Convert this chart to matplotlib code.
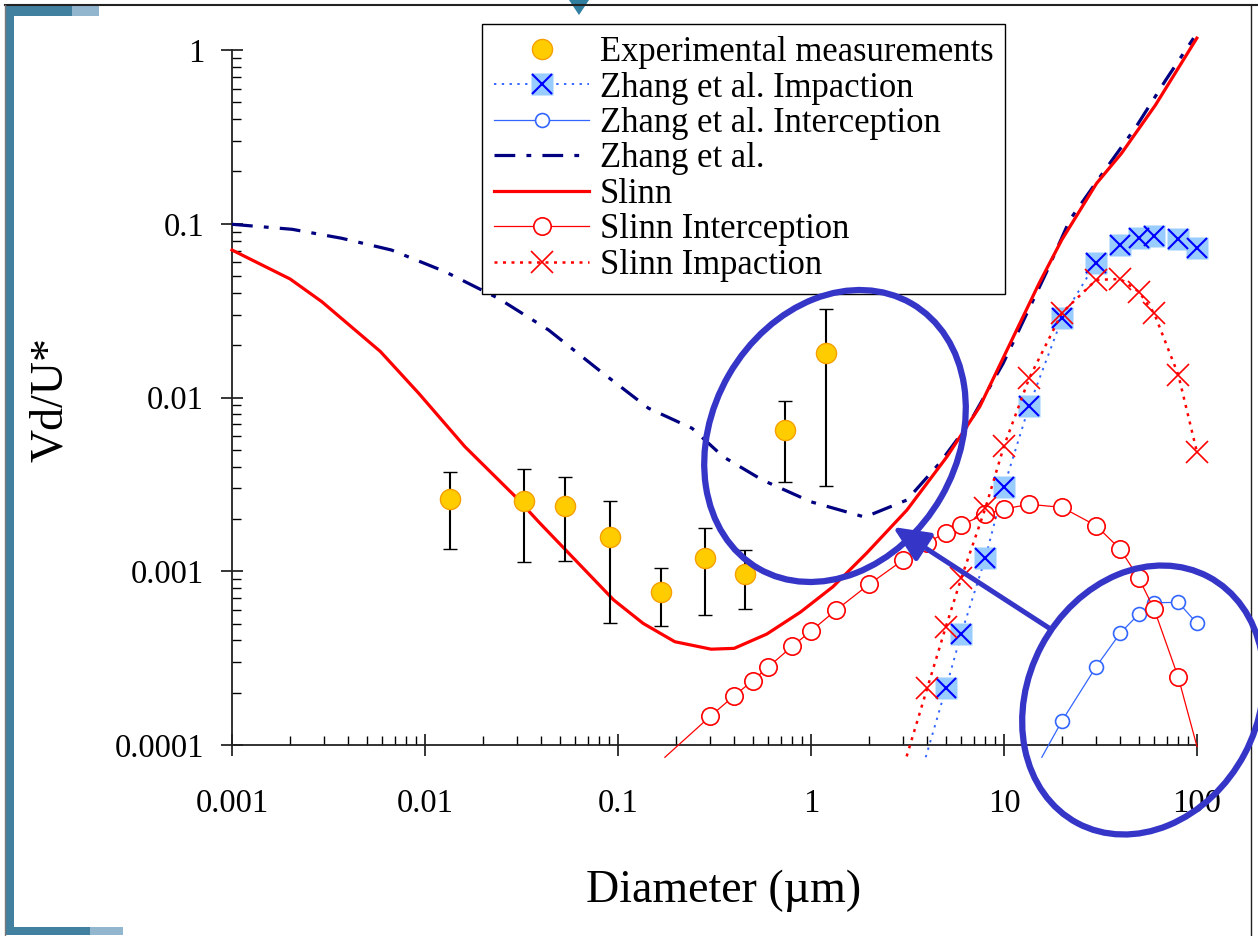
import matplotlib.pyplot as plt
import matplotlib.transforms as mtransforms
from matplotlib.patches import Ellipse, Rectangle, Polygon, FancyArrowPatch
from matplotlib.lines import Line2D
from matplotlib.ticker import NullFormatter

plt.rcParams["font.family"] = ["Liberation Serif", "DejaVu Serif"]

# experimental measurements (diameter in um, Vd/U*)
exp_d = [0.0134, 0.0327, 0.0533, 0.0912, 0.168, 0.283, 0.453, 0.736, 1.196]
exp_v = [0.0026, 0.00253, 0.00238, 0.00157, 0.000763, 0.00119, 0.000968, 0.0065, 0.018]
exp_hi = [0.00373, 0.00388, 0.0035, 0.00255, 0.00104, 0.00178, 0.00133, 0.00955, 0.0323]
exp_lo = [0.00134, 0.00113, 0.00115, 0.000506, 0.000486, 0.00056, 0.000606, 0.00325, 0.0031]

# Zhang et al. total
zhang_d = [0.001, 0.00205, 0.0037, 0.0067, 0.0127, 0.024, 0.0437, 0.0796, 0.144, 0.242, 0.351,
           0.56, 1.0, 1.9, 3.14, 4.63, 6.6, 9.9, 16.5, 21.9, 31.5, 48.4, 68.9, 96]
zhang_v = [0.0993, 0.0929, 0.0825, 0.0706, 0.053, 0.0372, 0.02446, 0.01439, 0.00867, 0.00665, 0.00456,
           0.00335, 0.00251, 0.00205, 0.00257, 0.00418, 0.0071, 0.01573, 0.0519, 0.105, 0.1866, 0.362, 0.672, 1.17]

# Slinn total
slinn_d = [0.001, 0.002, 0.00292, 0.00587, 0.00928, 0.0161, 0.0294, 0.0394, 0.0949, 0.135, 0.197, 0.304,
           0.40, 0.59, 0.882, 1.30, 1.94, 3.14, 5.06, 7.49, 15.2, 19.9, 30.2, 40.6, 60.9, 99.8]
slinn_v = [0.0706, 0.0481, 0.0356, 0.0184, 0.01057, 0.00521, 0.00269, 0.00189, 0.000684, 0.000501, 0.000393, 0.000356,
           0.00036, 0.000435, 0.000582, 0.000815, 0.00127, 0.00225, 0.00456, 0.00886, 0.0454, 0.0806, 0.171, 0.254, 0.482, 1.17]

# impaction / interception components (first point of each line sits below the axis)
zimp_d = [3.93, 5, 6, 8, 10, 13.5, 20, 30, 40, 50, 60, 80, 100]
zimp_v = [8.5e-5, 2.12e-4, 4.35e-4, 1.19e-3, 3.07e-3, 8.94e-3, 2.86e-2, 5.97e-2, 7.55e-2, 8.24e-2, 8.53e-2, 8.17e-2, 7.22e-2]

zint_d = [15.7, 20, 30, 40, 50, 60, 80, 100]
zint_v = [8.5e-5, 1.38e-4, 2.82e-4, 4.40e-4, 5.68e-4, 6.59e-4, 6.62e-4, 5.01e-4]

sint_d = [0.175, 0.3, 0.4, 0.5, 0.6, 0.8, 1, 1.35, 2, 3, 4, 5, 6, 8, 10, 13.5, 20, 30, 40, 50, 60, 80, 100]
sint_v = [8.5e-5, 1.46e-4, 1.92e-4, 2.35e-4, 2.81e-4, 3.70e-4, 4.53e-4, 5.98e-4, 8.41e-4, 1.16e-3, 1.46e-3, 1.67e-3,
          1.85e-3, 2.13e-3, 2.28e-3, 2.43e-3, 2.33e-3, 1.83e-3, 1.34e-3, 9.1e-4, 6.04e-4, 2.45e-4, 9.8e-5]

simp_d = [3.13, 4, 5, 6, 8, 10, 13.5, 20, 30, 40, 50, 60, 80, 100]
simp_v = [8.6e-5, 2.12e-4, 4.80e-4, 9.1e-4, 2.30e-3, 5.26e-3, 1.29e-2, 3.08e-2, 4.75e-2, 4.81e-2, 4.06e-2, 3.05e-2, 1.35e-2, 4.84e-3]

x_ticks = [0.001, 0.01, 0.1, 1, 10, 100]
x_labels = ["0.001", "0.01", "0.1", "1", "10", "100"]
y_ticks = [0.0001, 0.001, 0.01, 0.1, 1]
y_labels = ["0.0001", "0.001", "0.01", "0.1", "1"]

legend_labels = ["Experimental measurements", "Zhang et al. Impaction", "Zhang et al. Interception",
                 "Zhang et al.", "Slinn", "Slinn Interception", "Slinn Impaction"]

RED = "#FF0000"
LBLUE = "#3366FF"
NAVY = "#000080"
ANNOT = "#3535C8"

exp_style = dict(ls="none", marker="o", ms=14.5, mfc="#FFCC00", mec="#F5A000", mew=1.0)
zimp_line = dict(color=LBLUE, lw=1.4, ls=(0, (1.2, 2.8)))
zimp_sq = dict(ls="none", marker="s", ms=16, mfc="#99CCFF", mec="none")
zimp_x = dict(ls="none", marker="x", ms=14, mec="#0000FF", mew=1.5)
zint_style = dict(color=LBLUE, lw=0.9, marker="o", ms=10, mfc="white", mec=LBLUE, mew=1.2)
zhang_style = dict(color=NAVY, lw=2.3, ls=(0, (6.5, 3.5, 1.5, 3.5)))
slinn_style = dict(color=RED, lw=2.3)
sint_style = dict(color=RED, lw=0.9, marker="o", ms=12.5, mfc="white", mec=RED, mew=1.2)
simp_line = dict(color=RED, lw=1.8, ls=(0, (1.2, 2.2)))
simp_x = dict(ls="none", marker="x", ms=15.5, mec=RED, mew=1.2)

W, H = 1258, 936
fig = plt.figure(figsize=(W / 100, H / 100), dpi=100)
ax = fig.add_axes([232 / W, 1 - 745 / H, 965 / W, 695 / H])
ax.set_xscale("log")
ax.set_yscale("log")

ax.plot(zimp_d, zimp_v, clip_on=False, zorder=3, **zimp_line)
ax.plot(zimp_d[1:], zimp_v[1:], clip_on=False, zorder=3, **zimp_sq)
ax.plot(zimp_d[1:], zimp_v[1:], clip_on=False, zorder=3, **zimp_x)
ax.plot(zint_d, zint_v, clip_on=False, zorder=3, color=LBLUE, lw=0.9)
ax.plot(zint_d[1:], zint_v[1:], clip_on=False, zorder=3, **dict(zint_style, ls="none"))
ax.plot(zhang_d, zhang_v, clip_on=False, zorder=3, **zhang_style)
ax.plot(slinn_d, slinn_v, clip_on=False, zorder=3, **slinn_style)
ax.plot(sint_d, sint_v, clip_on=False, zorder=3, color=RED, lw=0.9)
ax.plot(sint_d[1:-1], sint_v[1:-1], clip_on=False, zorder=3, **dict(sint_style, ls="none"))
ax.plot(simp_d, simp_v, clip_on=False, zorder=3, **simp_line)
ax.plot(simp_d[1:], simp_v[1:], clip_on=False, zorder=3, **simp_x)

err = [[v - lo for v, lo in zip(exp_v, exp_lo)], [hi - v for v, hi in zip(exp_v, exp_hi)]]
ax.errorbar(exp_d, exp_v, yerr=err, ecolor="black", elinewidth=1.5, capsize=5.2, capthick=1.5,
            zorder=4, clip_on=False, **exp_style)

ax.set_xlim(0.001, 100)
ax.set_ylim(0.0001, 1)
ax.set_xticks(x_ticks, x_labels)
ax.set_yticks(y_ticks, y_labels)
ax.xaxis.set_minor_formatter(NullFormatter())
ax.yaxis.set_minor_formatter(NullFormatter())
ax.tick_params(which="major", direction="inout", length=16, width=1.1, labelsize=23.5, colors="black")
ax.tick_params(which="minor", direction="in", length=6.5, width=1.0)
ax.tick_params(axis="x", which="major", pad=23.5)
ax.tick_params(axis="y", which="major", pad=12)
for side in ["top", "right"]:
    ax.spines[side].set_visible(False)
for side in ["left", "bottom"]:
    ax.spines[side].set_linewidth(1.3)
    ax.spines[side].set_color("#222222")
ax.patch.set_alpha(0)

handles = [
    Line2D([], [], **exp_style),
    (Line2D([], [], marker="s", ms=16, mfc="#99CCFF", mec="none", **zimp_line), Line2D([], [], **zimp_x)),
    Line2D([], [], **zint_style),
    Line2D([], [], **zhang_style),
    Line2D([], [], **slinn_style),
    Line2D([], [], **sint_style),
    Line2D([], [], **dict(simp_x, **simp_line)),
]
leg = fig.legend(handles, legend_labels, loc="upper left", bbox_to_anchor=(482 / W, 1 - 24 / H),
                 bbox_transform=fig.transFigure, borderaxespad=0, fontsize=24.9, handlelength=2.75,
                 handletextpad=0.3, borderpad=0.35, labelspacing=0.07, fancybox=False, shadow=False,
                 framealpha=1, edgecolor="black")
leg.get_frame().set_linewidth(1.0)
leg.set_zorder(5)

fig.text(51 / W, 1 - 400 / H, "Vd/U*", rotation=90, ha="center", va="center", fontsize=33)
fig.text(724 / W, 1 - 902 / H, "Diameter (\u00b5m)", ha="center", va="baseline", fontsize=33)

# pixel transform (image coordinates, y downward)
pix = mtransforms.Affine2D().scale(1 / 100, -1 / 100).translate(0, H / 100) + fig.dpi_scale_trans

fig.add_artist(Ellipse((835, 436), 245, 306, angle=30, transform=pix, fill=False, ec=ANNOT, lw=4.5, zorder=6))
fig.add_artist(Ellipse((1143, 700), 230, 279, angle=28, transform=pix, fill=False, ec=ANNOT, lw=4.5, zorder=6))
fig.add_artist(FancyArrowPatch((1049, 628), (893, 527), transform=pix, arrowstyle="-|>,head_length=2.2,head_width=1.0",
                               mutation_scale=10, lw=3.6, color=ANNOT, shrinkA=0, shrinkB=0, zorder=6))

# slide frame decorations
dark = "#42809F"
light = "#93B6CF"
fig.add_artist(Rectangle((5, 5), 9, 930, transform=pix, color=dark, lw=0))
fig.add_artist(Rectangle((5, 5), 67, 10.5, transform=pix, color=dark, lw=0))
fig.add_artist(Rectangle((72, 5), 27, 10.5, transform=pix, color=light, lw=0))
fig.add_artist(Rectangle((5, 927), 85, 8, transform=pix, color=dark, lw=0))
fig.add_artist(Rectangle((90, 927), 33, 8, transform=pix, color=light, lw=0))
fig.add_artist(Line2D([5, W], [5, 5], transform=pix, color="#222222", lw=1.5))
fig.add_artist(Line2D([4.5, 4.5], [5, H], transform=pix, color="#777777", lw=1.0))
fig.add_artist(Line2D([1251, 1251], [5, H], transform=pix, color="#222222", lw=1.0))
fig.add_artist(Polygon([(569, 0), (589, 0), (579, 15)], closed=True, transform=pix, color="#2E7FA0", lw=0))

fig.savefig("out.png", dpi=100)
